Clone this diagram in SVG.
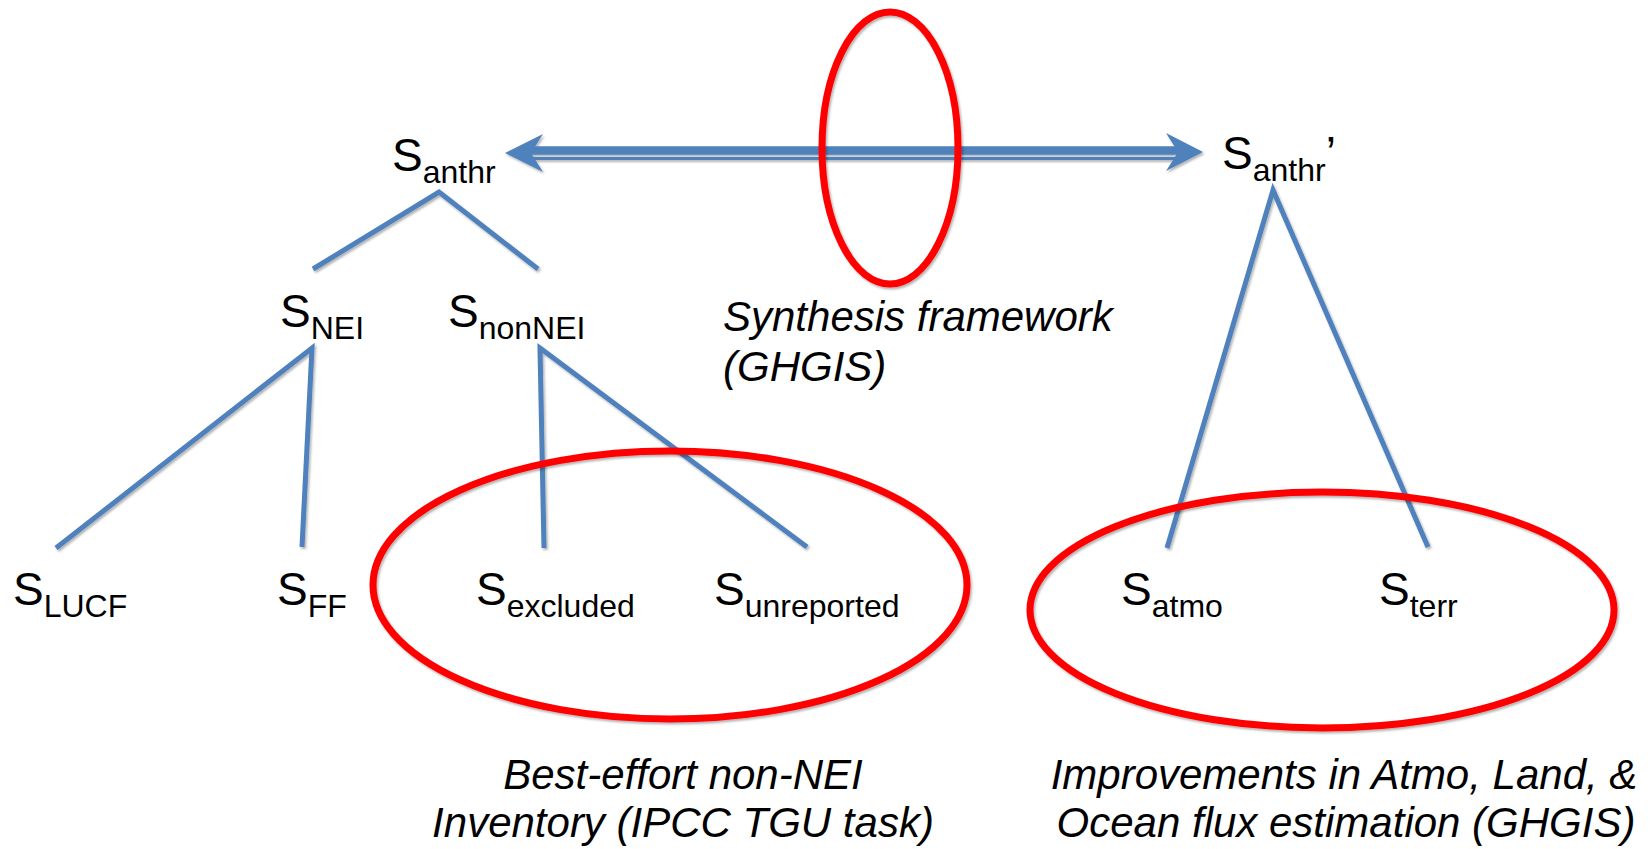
<svg xmlns="http://www.w3.org/2000/svg" width="1651" height="849" viewBox="0 0 1651 849">
  <style>
    .lbl { font-family: "Liberation Sans", Arial, sans-serif; font-size: 46px; fill: #000; }
    .sub { font-size: 32px; }
    .note { font-family: "Liberation Sans", Arial, sans-serif; font-size: 42px; font-style: italic; fill: #000; }
    .edge { stroke: #4F81BD; stroke-width: 5; fill: none; stroke-linecap: butt; }
    .ring { stroke: #FF0000; stroke-width: 7; fill: none; }
    .shaft { stroke: #4F81BD; fill: none; }
    .head { fill: #4F81BD; }
  </style>
  <defs>
    <filter id="shadow" filterUnits="userSpaceOnUse" x="0" y="0" width="1651" height="849">
      <feDropShadow dx="1.5" dy="2" stdDeviation="1.2" flood-color="#000" flood-opacity="0.3"/>
    </filter>
  </defs>

  <rect width="1651" height="849" fill="#FFFFFF"/>

  <!-- tree branches and the two-way comparison arrow -->
  <g id="connectors" filter="url(#shadow)">
    <polyline class="edge" points="313,269 439,192 538,269"/>
    <polyline class="edge" points="56,548 312,348 302,547"/>
    <polyline class="edge" points="544,548 540,348 807,547"/>
    <polyline class="edge" points="1167,548 1273,190 1428,547"/>
    <g id="arrow-anthr">
      <line class="shaft" x1="528" y1="150.5" x2="1180" y2="150.5" stroke-width="8.5"/>
      <line class="shaft" x1="530" y1="158.5" x2="1178" y2="158.5" stroke-width="2.8"/>
      <polygon class="head" points="505,153 543,134 531,153 543,172"/>
      <polygon class="head" points="1203,152 1166,133 1178,152 1166,171"/>
    </g>
  </g>

  <!-- highlight rings -->
  <g id="ring-synthesis" filter="url(#shadow)">
    <ellipse class="ring" cx="890" cy="148" rx="68" ry="136"/>
  </g>
  <g id="ring-inventory" filter="url(#shadow)">
    <ellipse class="ring" cx="670" cy="585" rx="297" ry="134"/>
  </g>
  <g id="ring-flux" filter="url(#shadow)">
    <ellipse class="ring" cx="1322" cy="610" rx="292" ry="118"/>
  </g>

  <!-- nodes -->
  <g id="node-anthr">
    <text class="lbl" x="392" y="171">S<tspan class="sub" dy="12">anthr</tspan></text>
  </g>
  <g id="node-anthr-prime">
    <text class="lbl" x="1222" y="169">S<tspan class="sub" dy="12">anthr</tspan><tspan dy="-12">’</tspan></text>
  </g>
  <g id="node-nei">
    <text class="lbl" x="280" y="327">S<tspan class="sub" dy="12">NEI</tspan></text>
  </g>
  <g id="node-nonnei">
    <text class="lbl" x="448" y="327">S<tspan class="sub" dy="12">nonNEI</tspan></text>
  </g>
  <g id="node-lucf">
    <text class="lbl" x="13" y="605">S<tspan class="sub" dy="12">LUCF</tspan></text>
  </g>
  <g id="node-ff">
    <text class="lbl" x="277" y="605">S<tspan class="sub" dy="12">FF</tspan></text>
  </g>
  <g id="node-excluded">
    <text class="lbl" x="476" y="605">S<tspan class="sub" dy="12">excluded</tspan></text>
  </g>
  <g id="node-unreported">
    <text class="lbl" x="714" y="605">S<tspan class="sub" dy="12">unreported</tspan></text>
  </g>
  <g id="node-atmo">
    <text class="lbl" x="1121" y="605">S<tspan class="sub" dy="12">atmo</tspan></text>
  </g>
  <g id="node-terr">
    <text class="lbl" x="1379" y="605">S<tspan class="sub" dy="12">terr</tspan></text>
  </g>

  <!-- captions -->
  <g id="caption-synthesis">
    <text class="note" x="723" y="331">Synthesis framework</text>
    <text class="note" x="723" y="381">(GHGIS)</text>
  </g>
  <g id="caption-inventory">
    <text class="note" x="683" y="789" text-anchor="middle">Best-effort non-NEI</text>
    <text class="note" x="683" y="837" text-anchor="middle">Inventory (IPCC TGU task)</text>
  </g>
  <g id="caption-flux">
    <text class="note" x="1344" y="789" text-anchor="middle">Improvements in Atmo, Land, &amp;</text>
    <text class="note" x="1346" y="837" text-anchor="middle">Ocean flux estimation (GHGIS)</text>
  </g>
</svg>
